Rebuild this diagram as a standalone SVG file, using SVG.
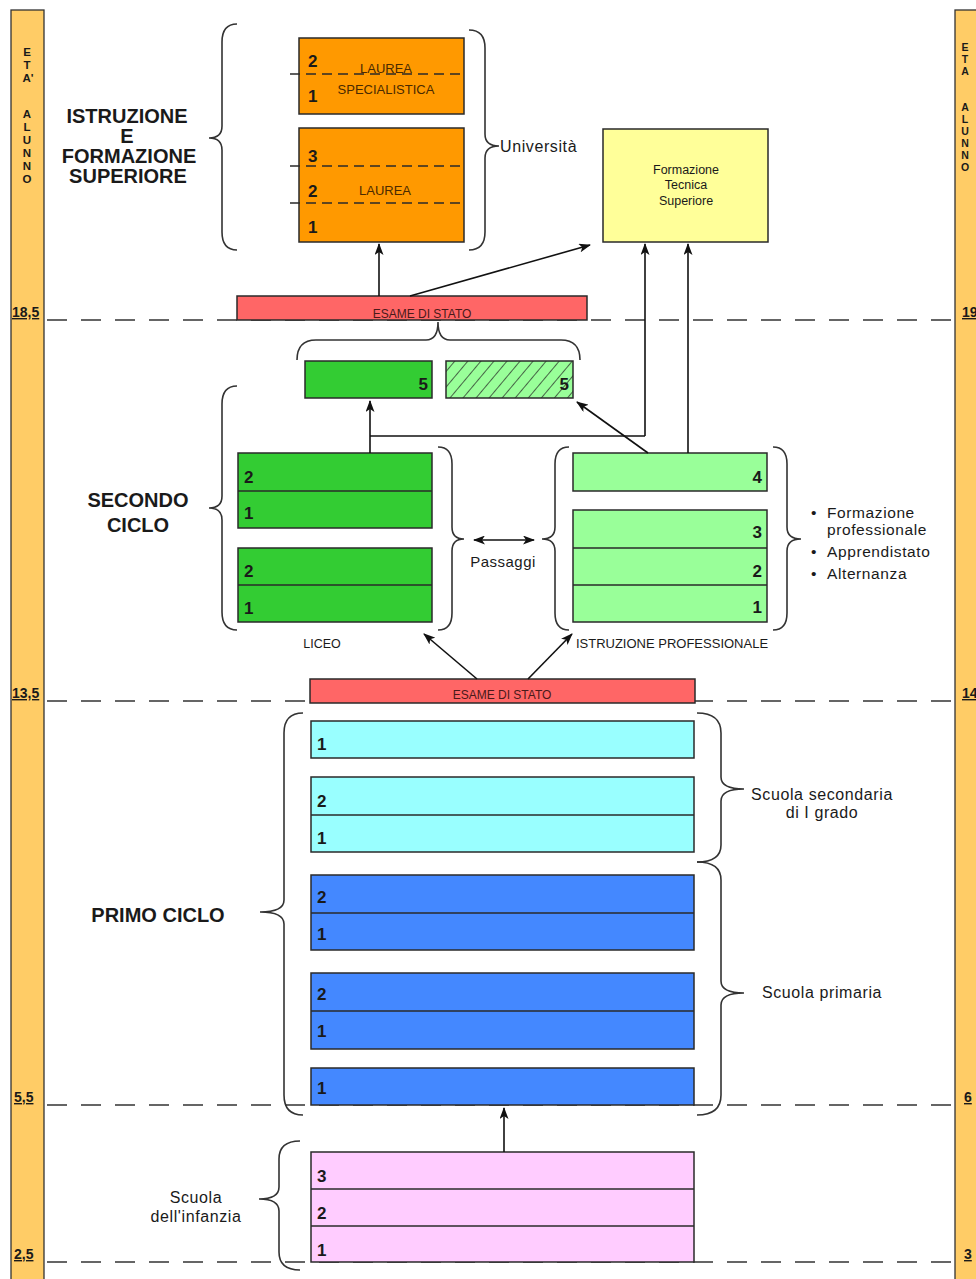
<svg xmlns="http://www.w3.org/2000/svg" width="976" height="1279" viewBox="0 0 976 1279">
<style>
text{font-family:"Liberation Sans",Arial,sans-serif;fill:#1a1a1a}
.box{stroke:#2a2a2a;stroke-width:1.5}
.div{stroke:#2a2a2a;stroke-width:1.5}
.ddiv{stroke:#2a2a2a;stroke-width:1.3;stroke-dasharray:10 6}
.num{font-size:17px;font-weight:bold}
.title{font-size:20px;font-weight:bold;text-anchor:middle}
.lab{font-size:16px;letter-spacing:0.6px}
.lab2{font-size:15.5px;letter-spacing:0.6px}
.cap{font-size:12px;text-anchor:middle}
.ocap{font-size:13px;text-anchor:middle;fill:#4a2a00}
.age{font-size:14px;font-weight:bold;text-decoration:underline}
.vl{font-size:11.5px;font-weight:bold;text-anchor:middle}
.vr{font-size:10.5px;font-weight:bold;text-anchor:middle}
.brace{fill:none;stroke:#333;stroke-width:1.6}
.conn{fill:none;stroke:#111;stroke-width:1.6}
.dash{stroke:#333;stroke-width:1.6;stroke-dasharray:20 14}
.orange{fill:#FF9900}.yellow{fill:#FFFF99}.red{fill:#FF6666}.dgreen{fill:#33CC33}.lgreen{fill:#99FF99}.cyan{fill:#99FFFF}.blue{fill:#4488FF}.pink{fill:#FFCCFF}
</style>
<defs>
<marker id="ah" viewBox="0 0 12 9" refX="11" refY="4.5" markerWidth="12" markerHeight="9" markerUnits="userSpaceOnUse" orient="auto-start-reverse"><path d="M0,0 L12,4.5 L0,9 L3,4.5 z" fill="#111"/></marker>
<pattern id="hatch" width="10" height="10" patternUnits="userSpaceOnUse" patternTransform="rotate(40)"><rect width="10" height="10" fill="#99FF99"/><line x1="0" y1="0" x2="0" y2="10" stroke="#222" stroke-width="1.4"/></pattern>
</defs>
<rect width="976" height="1279" fill="#ffffff"/>

<g id="age-bar-left">
<rect x="11" y="10" width="33" height="1280" fill="#FFCC66" stroke="#333" stroke-width="1.3"/>
<text class="vl" x="27" y="56">E</text><text class="vl" x="27" y="69">T</text><text class="vl" x="28" y="82">A'</text>
<text class="vl" x="27" y="118">A</text><text class="vl" x="27" y="131">L</text><text class="vl" x="27" y="144">U</text><text class="vl" x="27" y="157">N</text><text class="vl" x="27" y="170">N</text><text class="vl" x="27" y="183">O</text>
<text class="age" x="12" y="317">18,5</text>
<text class="age" x="12" y="698">13,5</text>
<text class="age" x="14" y="1102">5,5</text>
<text class="age" x="14" y="1259">2,5</text>
</g>
<g id="age-bar-right">
<rect x="955" y="10" width="33" height="1280" fill="#FFCC66" stroke="#333" stroke-width="1.3"/>
<text class="vr" x="965" y="51">E</text><text class="vr" x="965" y="63">T</text><text class="vr" x="965" y="75">A</text>
<text class="vr" x="965" y="111">A</text><text class="vr" x="965" y="123">L</text><text class="vr" x="965" y="135">U</text><text class="vr" x="965" y="147">N</text><text class="vr" x="965" y="159">N</text><text class="vr" x="965" y="171">O</text>
<text class="age" x="962" y="317">19</text>
<text class="age" x="962" y="698">14</text>
<text class="age" x="964" y="1102">6</text>
<text class="age" x="964" y="1259">3</text>
</g>

<g id="age-lines">
<line class="dash" x1="47" y1="320" x2="952" y2="320"/>
<line class="dash" x1="47" y1="701" x2="952" y2="701"/>
<line class="dash" x1="47" y1="1105" x2="952" y2="1105"/>
<line class="dash" x1="47" y1="1262" x2="952" y2="1262"/>
</g>

<g id="section-titles">
<text class="title" x="127" y="123">ISTRUZIONE</text>
<text class="title" x="127" y="143">E</text>
<text class="title" x="129" y="163">FORMAZIONE</text>
<text class="title" x="128" y="183">SUPERIORE</text>
<text class="title" x="138" y="507">SECONDO</text>
<text class="title" x="138" y="532">CICLO</text>
<text class="title" x="158" y="922">PRIMO CICLO</text>
</g>

<g id="braces">
<path class="brace" d="M237,24 Q222,24 222,42 L222,126 Q222,138 209,138 Q222,138 222,150 L222,232 Q222,250 237,250"/>
<path class="brace" d="M469,30 Q485,30 485,48 L485,134 Q485,146 499,146 Q485,146 485,158 L485,232 Q485,250 469,250"/>
<path class="brace" d="M297,360 Q297,340 316,340 L426,340 Q438,340 438,322 Q438,340 450,340 L561,340 Q580,340 580,360"/>
<path class="brace" d="M237,386 Q222,386 222,404 L222,496 Q222,508 209,508 Q222,508 222,520 L222,612 Q222,630 237,630"/>
<path class="brace" d="M438,447 Q452,447 452,464 L452,527 Q452,539 464,539 Q452,539 452,551 L452,613 Q452,630 438,630"/>
<path class="brace" d="M569,447 Q555,447 555,464 L555,527 Q555,539 542,539 Q555,539 555,551 L555,613 Q555,630 569,630"/>
<path class="brace" d="M773,447 Q787,447 787,464 L787,527 Q787,539 801,539 Q787,539 787,551 L787,613 Q787,630 773,630"/>
<path class="brace" d="M303,713 Q284,713 284,733 L284,900 Q284,912 260,912 Q284,912 284,924 L284,1095 Q284,1115 303,1115"/>
<path class="brace" d="M697,713 Q721,713 721,733 L721,777 Q721,789 744,789 Q721,789 721,801 L721,845 Q721,862 697,862"/>
<path class="brace" d="M697,862 Q721,862 721,880 L721,981 Q721,993 744,993 Q721,993 721,1005 L721,1095 Q721,1115 697,1115"/>
<path class="brace" d="M300,1141 Q279,1141 279,1159 L279,1187 Q279,1199 259,1199 Q279,1199 279,1211 L279,1252 Q279,1270 300,1270"/>
</g>

<g id="laurea-specialistica">
<rect class="box orange" x="299" y="38" width="165" height="76"/>
<line class="ddiv" x1="290" y1="74" x2="464" y2="74"/>
<text class="num" x="308" y="67">2</text>
<text class="num" x="308" y="102">1</text>
<text class="ocap" x="386" y="73">LAUREA</text>
<text class="ocap" x="386" y="94">SPECIALISTICA</text>
</g>
<g id="laurea">
<rect class="box orange" x="299" y="128" width="165" height="114"/>
<line class="ddiv" x1="290" y1="166" x2="464" y2="166"/>
<line class="ddiv" x1="290" y1="203" x2="464" y2="203"/>
<text class="num" x="308" y="162">3</text>
<text class="num" x="308" y="197">2</text>
<text class="num" x="308" y="233">1</text>
<text class="ocap" x="385" y="195">LAUREA</text>
</g>
<g id="universita-label"><text class="lab" x="500" y="152">Università</text></g>

<g id="formazione-tecnica">
<rect class="box yellow" x="603" y="129" width="165" height="113"/>
<text x="686" y="174" style="font-size:12.5px;text-anchor:middle">Formazione</text>
<text x="686" y="189" style="font-size:12.5px;text-anchor:middle">Tecnica</text>
<text x="686" y="205" style="font-size:12.5px;text-anchor:middle">Superiore</text>
</g>

<g id="esame-stato-1">
<rect class="box red" x="237" y="296" width="350" height="24"/>
<text class="cap" x="422" y="318" style="fill:#4a1a1a">ESAME DI STATO</text>
</g>

<g id="liceo-5">
<rect class="box dgreen" x="305" y="361" width="127" height="37"/>
<text class="num" x="428" y="390" text-anchor="end">5</text>
</g>
<g id="prof-5">
<rect class="box" x="446" y="361" width="127" height="37" fill="url(#hatch)"/>
<text class="num" x="569" y="390" text-anchor="end">5</text>
</g>

<g id="liceo-34">
<rect class="box dgreen" x="238" y="453" width="194" height="75"/>
<line class="div" x1="238" y1="491" x2="432" y2="491"/>
<text class="num" x="244" y="483">2</text>
<text class="num" x="244" y="519">1</text>
</g>
<g id="liceo-12">
<rect class="box dgreen" x="238" y="548" width="194" height="74"/>
<line class="div" x1="238" y1="585" x2="432" y2="585"/>
<text class="num" x="244" y="577">2</text>
<text class="num" x="244" y="614">1</text>
</g>
<g id="liceo-label"><text x="322" y="648" style="font-size:12.5px;text-anchor:middle">LICEO</text></g>

<g id="passaggi"><text x="503" y="567" style="font-size:15px;letter-spacing:0.5px;text-anchor:middle">Passaggi</text></g>

<g id="prof-4">
<rect class="box lgreen" x="573" y="453" width="194" height="38"/>
<text class="num" x="762" y="483" text-anchor="end">4</text>
</g>
<g id="prof-123">
<rect class="box lgreen" x="573" y="510" width="194" height="112"/>
<line class="div" x1="573" y1="548" x2="767" y2="548"/>
<line class="div" x1="573" y1="585" x2="767" y2="585"/>
<text class="num" x="762" y="538" text-anchor="end">3</text>
<text class="num" x="762" y="577" text-anchor="end">2</text>
<text class="num" x="762" y="613" text-anchor="end">1</text>
</g>
<g id="prof-label"><text x="672" y="648" style="font-size:13px;text-anchor:middle">ISTRUZIONE PROFESSIONALE</text></g>

<g id="prof-options">
<text class="lab2" x="811" y="518">•</text><text class="lab2" x="827" y="518">Formazione</text>
<text class="lab2" x="827" y="535">professionale</text>
<text class="lab2" x="811" y="557">•</text><text class="lab2" x="827" y="557">Apprendistato</text>
<text class="lab2" x="811" y="579">•</text><text class="lab2" x="827" y="579">Alternanza</text>
</g>

<g id="esame-stato-2">
<rect class="box red" x="310" y="679" width="385" height="24"/>
<text class="cap" x="502" y="699" style="fill:#4a1a1a">ESAME DI STATO</text>
</g>

<g id="secondaria-1">
<rect class="box cyan" x="311" y="721" width="383" height="37"/>
<text class="num" x="317" y="750">1</text>
</g>
<g id="secondaria-23">
<rect class="box cyan" x="311" y="777" width="383" height="75"/>
<line class="div" x1="311" y1="815" x2="694" y2="815"/>
<text class="num" x="317" y="807">2</text>
<text class="num" x="317" y="844">1</text>
</g>
<g id="primaria-45">
<rect class="box blue" x="311" y="875" width="383" height="75"/>
<line class="div" x1="311" y1="913" x2="694" y2="913"/>
<text class="num" x="317" y="903">2</text>
<text class="num" x="317" y="940">1</text>
</g>
<g id="primaria-23">
<rect class="box blue" x="311" y="973" width="383" height="76"/>
<line class="div" x1="311" y1="1011" x2="694" y2="1011"/>
<text class="num" x="317" y="1000">2</text>
<text class="num" x="317" y="1037">1</text>
</g>
<g id="primaria-1">
<rect class="box blue" x="311" y="1068" width="383" height="37"/>
<text class="num" x="317" y="1094">1</text>
</g>
<g id="secondaria-label">
<text class="lab" x="822" y="800" text-anchor="middle">Scuola secondaria</text>
<text class="lab" x="822" y="818" text-anchor="middle">di I grado</text>
</g>
<g id="primaria-label"><text class="lab" x="822" y="998" text-anchor="middle">Scuola primaria</text></g>

<g id="infanzia">
<rect class="box pink" x="311" y="1152" width="383" height="110"/>
<line class="div" x1="311" y1="1189" x2="694" y2="1189"/>
<line class="div" x1="311" y1="1226" x2="694" y2="1226"/>
<text class="num" x="317" y="1182">3</text>
<text class="num" x="317" y="1219">2</text>
<text class="num" x="317" y="1256">1</text>
</g>
<g id="infanzia-label">
<text class="lab" x="196" y="1203" text-anchor="middle">Scuola</text>
<text class="lab" x="196" y="1222" text-anchor="middle">dell'infanzia</text>
</g>

<g id="connectors">
<path class="conn" d="M379,296 L379,244" marker-end="url(#ah)"/>
<path class="conn" d="M410,296 L590,245" marker-end="url(#ah)"/>
<path class="conn" d="M370,453 L370,401" marker-end="url(#ah)"/>
<path class="conn" d="M370,436 L645,436"/>
<path class="conn" d="M645,436 L645,244" marker-end="url(#ah)"/>
<path class="conn" d="M688,453 L688,244" marker-end="url(#ah)"/>
<path class="conn" d="M648,453 L577,402" marker-end="url(#ah)"/>
<path class="conn" d="M474,540 L534,540" marker-start="url(#ah)" marker-end="url(#ah)"/>
<path class="conn" d="M477,679 L424,634" marker-end="url(#ah)"/>
<path class="conn" d="M528,679 L572,634" marker-end="url(#ah)"/>
<path class="conn" d="M504,1152 L504,1108" marker-end="url(#ah)"/>
</g>
</svg>
